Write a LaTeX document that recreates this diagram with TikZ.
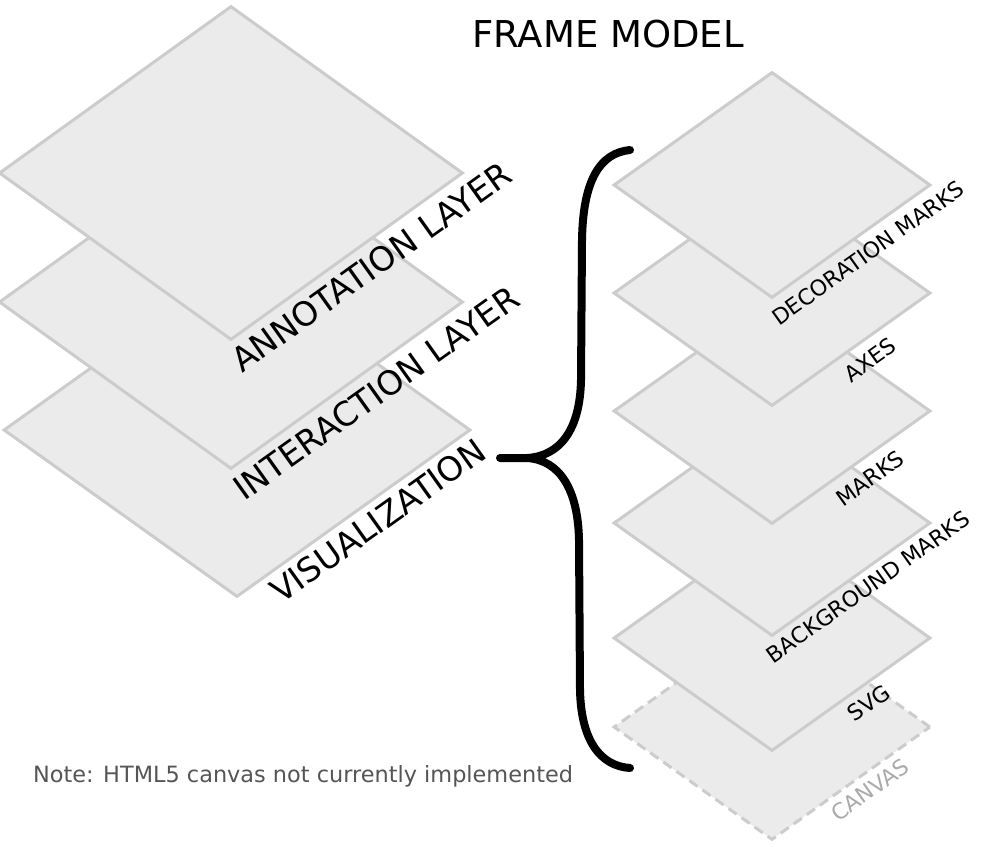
\documentclass[tikz,border=0pt]{standalone}
\usepackage{fontspec}
\setmainfont{DejaVu Sans}
\usetikzlibrary{shapes.geometric,calc,positioning}
\definecolor{planefill}{HTML}{EBEBEB}
\definecolor{planeedge}{HTML}{CCCCCC}
\definecolor{notegray}{HTML}{555555}
\definecolor{canvasgray}{HTML}{AAAAAA}

\begin{document}
\begin{tikzpicture}[x=1pt, y=-1pt,
    plane/.style={diamond, draw=planeedge, fill=planefill, line width=3pt, inner sep=0pt},
    bigplane/.style={plane, minimum width=464pt, minimum height=334pt},
    smallplane/.style={plane, minimum width=317pt, minimum height=226pt},
    biglbl/.style={anchor=base west, rotate=35.5, inner sep=0pt,
                   font=\fontsize{33.5}{33.5}\selectfont},
    smalllbl/.style={anchor=center, rotate=35.5, inner sep=0pt,
                     font=\fontsize{22}{22}\selectfont},
    brace/.style={line width=8pt, line cap=round, line join=round}
  ]
  \useasboundingbox (0,0) rectangle (1000,846);

  \node[inner sep=0pt, font=\fontsize{37}{37}\selectfont] (title) at (608,34) {FRAME MODEL};

  % frame layers, bottom one first
  \node[bigplane, minimum width=467pt] (vis) at (237,430) {};
  \node[bigplane] (inter) at (231,302) {};
  \node[bigplane] (annot) at (231,173) {};

  \node[biglbl] (annotlbl) at (242,374) {ANNOTATION LAYER};
  \node[biglbl] (interlbl) at (244,502) {INTERACTION LAYER};
  \node[biglbl] (vislbl) at (281,605) {VISUALIZATION};

  % visualization layers
  \node[smallplane, dash pattern=on 10pt off 6pt] (canvas) at (772,727) {};
  \node[smallplane] (svg) at (772,638) {};
  \node[smallplane] (bgmarks) at (772,523) {};
  \node[smallplane] (marks) at (772,411) {};
  \node[smallplane] (axes) at (772,293) {};
  \node[smallplane] (decor) at (772,185) {};

  \node[smalllbl] (decorlbl) at ($(decor)+(96,68)$) {DECORATION MARKS};
  \node[smalllbl] (axeslbl) at ($(axes)+(98,67)$) {AXES};
  \node[smalllbl] (markslbl) at ($(marks)+(98,67)$) {MARKS};
  \node[smalllbl] (bgmarkslbl) at ($(bgmarks)+(96,64)$) {BACKGROUND MARKS};
  \node[smalllbl] (svglbl) at ($(svg)+(97,65)$) {SVG};
  \node[smalllbl, text=canvasgray] (canvaslbl) at ($(canvas)+(98,63)$) {CANVAS};

  % brace
  \coordinate (tip) at (500,458);
  \coordinate (bend) at (527,458);
  \draw[brace] (tip) -- (bend)
    .. controls (560,456) and (580,430) .. (581,380) -- (582,240)
    .. controls (583,180) and (600,153) .. (630,150);
  \draw[brace] (bend)
    .. controls (560,460) and (578,490) .. (579,540) -- (580,690)
    .. controls (581,740) and (600,766) .. (630,768);

  \node[anchor=base west, inner sep=0pt, text=notegray,
        font=\fontsize{22.4}{22.4}\selectfont] (note) at (33,782)
        {Note: HTML5 canvas not currently implemented};
\end{tikzpicture}
\end{document}
